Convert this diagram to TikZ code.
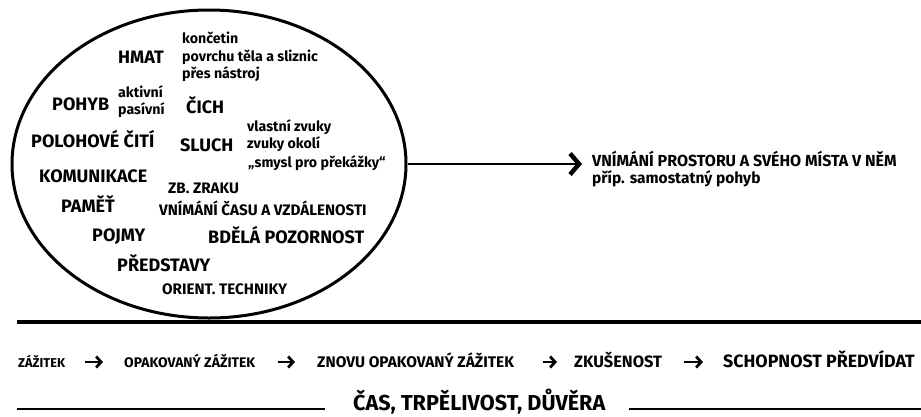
\documentclass[tikz,border=0pt]{standalone}
\usepackage{fontspec}
\setmainfont{Fira Sans}
\usetikzlibrary{arrows.meta,shapes.geometric}
\begin{document}
\begin{tikzpicture}[x=1pt,y=-1pt,
  lbl/.style={anchor=base west,inner sep=0pt},
  fXL/.style={lbl,font=\fontsize{18}{20}\bfseries\selectfont},
  fM/.style={lbl,font=\fontsize{15.2}{17}\bfseries\selectfont},
  fS/.style={lbl,font=\fontsize{14.2}{16}\bfseries\selectfont},
  fR/.style={lbl,font=\fontsize{16}{18}\bfseries\selectfont},
  fsz/.style={lbl,font=\fontsize{#1}{#1}\bfseries\selectfont},
  rule/.style={line width=3.4pt},
  thinrule/.style={line width=2.4pt},
  smallarr/.style={line width=2.8pt,-{Straight Barb[length=5pt,width=11pt,line width=2.8pt]}},
  bigarr/.style={line width=2.8pt,-{Straight Barb[length=9pt,width=21pt,line width=4.5pt]},shorten >=10pt}]
\useasboundingbox (0,0) rectangle (921,416);
\node[draw,ellipse,line width=3pt,minimum width=394pt,minimum height=308pt,inner sep=0pt] (oval) at (209,164) {};
% inside the oval
\node[fS] (konc) at (182,43) {končetin};
\node[fS] (povr) at (182,61) {povrchu těla a sliznic};
\node[fS] (pres) at (182,78) {přes nástroj};
\node[fXL] (hmat) at (118,63) {HMAT};
\node[fXL] (pohyb) at (52,110) {POHYB};
\node[fS] (akt) at (118,97) {aktivní};
\node[fS] (pas) at (118,114) {pasívní};
\node[fXL] (cich) at (186,113) {ČICH};
\node[fXL] (polo) at (31,147) {POLOHOVÉ ČITÍ};
\node[fXL] (sluch) at (180,151) {SLUCH};
\node[fS] (vlast) at (247,131) {vlastní zvuky};
\node[fS] (okoli) at (247,148) {zvuky okolí};
\node[fS] (smysl) at (248,167) {„smysl pro překážky“};
\node[fXL] (komu) at (39,182) {KOMUNIKACE};
\node[fM] (zb) at (168,193) {ZB. ZRAKU};
\node[fXL] (pamet) at (61,212) {PAMĚŤ};
\node[fM] (cas) at (159,215) {VNÍMÁNÍ ČASU A VZDÁLENOSTI};
\node[fXL] (pojmy) at (92,241) {POJMY};
\node[fXL] (bdela) at (208,243) {BDĚLÁ POZORNOST};
\node[fXL] (pred) at (117,271) {PŘEDSTAVY};
\node[fM] (orient) at (162,294) {ORIENT. TECHNIKY};
% right side
\node[fR] (prostor) at (592,166) {VNÍMÁNÍ PROSTORU A SVÉHO MÍSTA V NĚM};
\node[fsz=15.5] (prip) at (592,183) {příp. samostatný pohyb};
\draw[bigarr] (oval.east) -- (oval.east -| prostor.west);
% top rule
\coordinate (r1a) at (17,322);
\coordinate (r1b) at (921,322);
\draw[rule] (r1a) -- (r1b);
% sequence
\node[fsz=12.8] (s1) at (18,367) {ZÁŽITEK};
\node[fsz=13.9] (s2) at (124,367) {OPAKOVANÝ ZÁŽITEK};
\node[fsz=15.4] (s3) at (317,367) {ZNOVU OPAKOVANÝ ZÁŽITEK};
\node[fsz=16.4] (s4) at (574,367) {ZKUŠENOST};
\node[fsz=17.8] (s5) at (723,367) {SCHOPNOST PŘEDVÍDAT};
\draw[smallarr,shorten <=20pt,shorten >=21pt] ([yshift=5pt]s1.base east) -- ([yshift=5pt]s2.base west);
\draw[smallarr,shorten <=23pt,shorten >=22pt] ([yshift=5pt]s2.base east) -- ([yshift=5pt]s3.base west);
\draw[smallarr,shorten <=29pt,shorten >=17pt] ([yshift=5pt]s3.base east) -- ([yshift=5pt]s4.base west);
\draw[smallarr,shorten <=22pt,shorten >=20pt] ([yshift=5pt]s4.base east) -- ([yshift=5pt]s5.base west);
% bottom
\node[fsz=21.6] (ctd) at (353,410.5) {ČAS, TRPĚLIVOST, DŮVĚRA};
\coordinate (r2a) at (17,409);
\coordinate (r2b) at (921,409);
\draw[thinrule] (r2a) -- ([xshift=-28pt]r2a -| ctd.west);
\draw[thinrule] ([xshift=23pt]r2b -| ctd.east) -- (r2b);
\end{tikzpicture}
\end{document}
